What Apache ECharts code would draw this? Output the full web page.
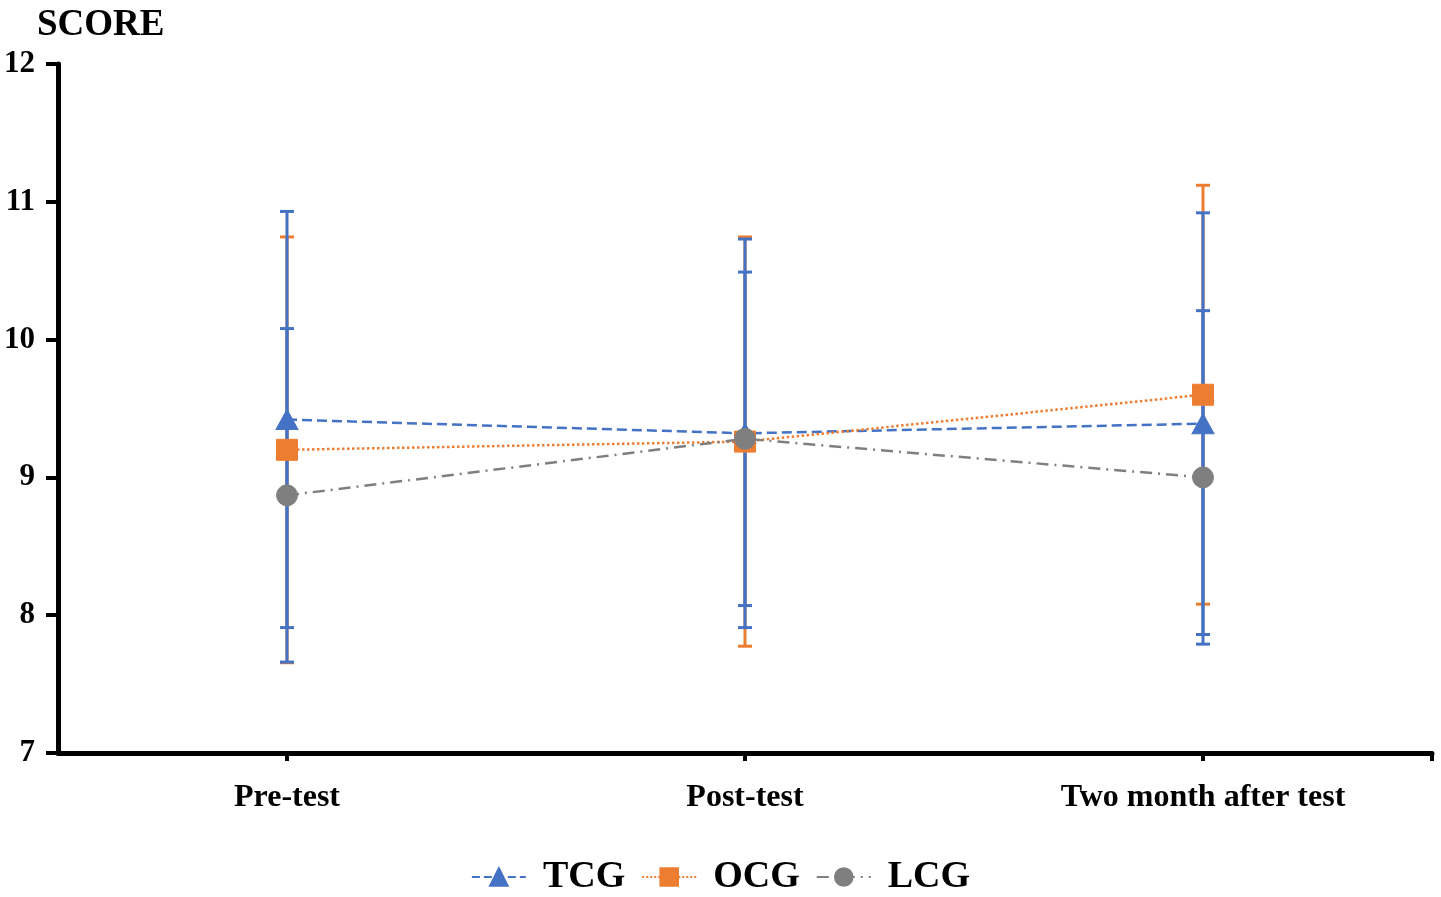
<!DOCTYPE html>
<html>
<head>
<meta charset="utf-8">
<title>SCORE</title>
<script src="https://cdn.jsdelivr.net/npm/echarts@6/dist/echarts.min.js"></script>
<style>
    html, body { margin: 0; padding: 0; background: #ffffff; }
    #chart { width: 1441px; height: 897px; }
</style>
</head>
<body>
<div id="chart"></div>
<script>
// Chart data
const categories = ['Pre-test', 'Post-test', 'Two month after test'];
const groupNames = ['TCG', 'OCG', 'LCG'];

const tcgMean = [9.42, 9.32, 9.39];
const tcgSd = [1.51, 1.41, 1.53];
const ocgMean = [9.20, 9.26, 9.60];
const ocgSd = [1.545, 1.485, 1.52];
const lcgMean = [8.87, 9.28, 9.00];
const lcgSd = [1.21, 1.21, 1.21];

const yTicks = [7, 8, 9, 10, 11, 12];

const FONT = '"Liberation Serif", "DejaVu Serif", serif';
const BLUE = '#4472C4';
const ORANGE = '#ED7D31';
const GREY = '#7F7F7F';

function toPoints(means) {
    return means.map((v, i) => [i, v]);
}

function toBars(means, sds) {
    return means.map((v, i) => [i, v - sds[i], v + sds[i]]);
}

// Error bar drawn as vertical line with caps
function renderErrorBar(params, api) {
    const x = api.value(0);
    const low = api.coord([x, api.value(1)]);
    const high = api.coord([x, api.value(2)]);
    const cap = 7;
    const style = { stroke: api.visual('color'), lineWidth: 3 };
    return {
        type: 'group',
        children: [
            { type: 'line', shape: { x1: low[0], y1: low[1], x2: high[0], y2: high[1] }, style: style },
            { type: 'line', shape: { x1: low[0] - cap, y1: low[1], x2: low[0] + cap, y2: low[1] }, style: style },
            { type: 'line', shape: { x1: high[0] - cap, y1: high[1], x2: high[0] + cap, y2: high[1] }, style: style }
        ]
    };
}

function errorSeries(name, means, sds, color, z) {
    return {
        name: name + ' error',
        type: 'custom',
        renderItem: renderErrorBar,
        itemStyle: { color: color },
        data: toBars(means, sds),
        encode: { x: 0, y: [1, 2] },
        z: z,
        silent: true
    };
}

function lineSeries(name, means, color, symbol, lineType) {
    return {
        name: name,
        type: 'line',
        data: toPoints(means),
        symbol: symbol,
        symbolSize: symbol === 'triangle' ? [22, 20] : 21,
        showSymbol: true,
        itemStyle: { color: color, borderColor: color, borderWidth: 1 },
        lineStyle: { color: color, width: 2.5, type: lineType },
        z: 10
    };
}

const chart = echarts.init(document.getElementById('chart'));

chart.setOption({
    backgroundColor: '#ffffff',
    animation: false,
    title: {
        text: 'SCORE',
        left: 32,
        top: 2,
        textStyle: { fontFamily: FONT, fontWeight: 'bold', fontSize: 37, color: '#000' }
    },
    grid: { left: 58, right: 9, top: 64, bottom: 144, containLabel: false },
    legend: {
        data: groupNames,
        left: 'center',
        top: 853,
        itemWidth: 54,
        itemHeight: 22,
        itemGap: 16,
        textStyle: {
            fontFamily: FONT, fontWeight: 'bold', fontSize: 38, color: '#000',
            padding: [0, 0, 0, 12]
        }
    },
    xAxis: {
        type: 'value',
        min: -0.5,
        max: 2.5,
        splitLine: { show: false },
        axisLine: { show: true, onZero: false, lineStyle: { color: '#000', width: 5 } },
        axisTick: {
            show: true,
            length: 8,
            customValues: [0, 1, 2, 2.5],
            lineStyle: { color: '#000', width: 4 }
        },
        axisLabel: {
            customValues: [0, 1, 2],
            margin: 29,
            formatter: v => categories[Math.round(v)],
            fontFamily: FONT,
            fontWeight: 'bold',
            fontSize: 32,
            color: '#000'
        }
    },
    yAxis: {
        type: 'value',
        min: yTicks[0],
        max: yTicks[yTicks.length - 1],
        interval: 1,
        splitLine: { show: false },
        axisLine: { show: true, onZero: false, lineStyle: { color: '#000', width: 5 } },
        axisTick: { show: true, length: 12, lineStyle: { color: '#000', width: 4 } },
        axisLabel: {
            margin: 23,
            fontFamily: FONT,
            fontWeight: 'bold',
            fontSize: 31,
            color: '#000'
        }
    },
    series: [
        errorSeries('OCG', ocgMean, ocgSd, ORANGE, 2),
        errorSeries('TCG', tcgMean, tcgSd, BLUE, 3),
        errorSeries('LCG', lcgMean, lcgSd, BLUE, 3),
        lineSeries('TCG', tcgMean, BLUE, 'triangle', 'dashed'),
        lineSeries('OCG', ocgMean, ORANGE, 'rect', 'dotted'),
        lineSeries('LCG', lcgMean, GREY, 'circle', [12, 6, 2, 6])
    ]
});

window.addEventListener('resize', () => {
    chart.resize();
});
</script>
</body>
</html>
